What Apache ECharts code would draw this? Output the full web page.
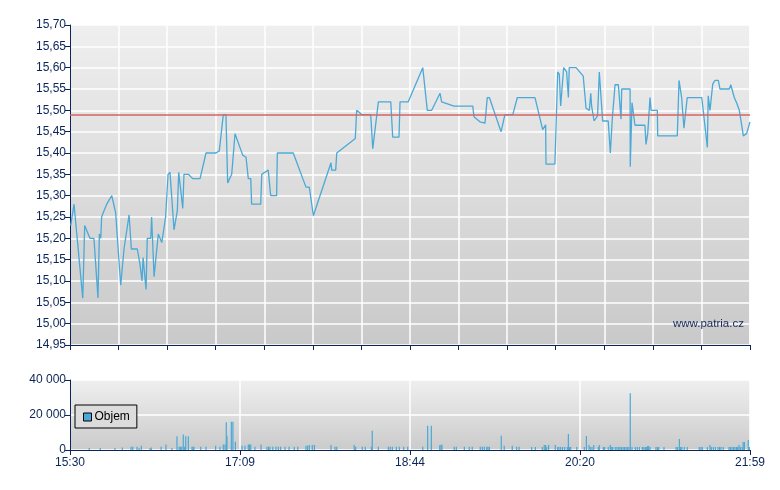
<!DOCTYPE html>
<html><head><meta charset="utf-8">
<script src="https://cdn.jsdelivr.net/npm/echarts@6/dist/echarts.min.js"></script>
<style>html,body{margin:0;padding:0;background:#fff}#c{width:780px;height:490px}</style>
</head><body><div id="c"></div>
<script>
// minutes after 15:30 (axis spans 0..389)
var priceTimes = [0.4,2.3,3.4,7.3,8.4,11.4,13.7,16.0,16.8,17.6,18.1,19.0,21.0,23.9,26.1,29.0,30.9,31.5,33.8,35.1,38.5,40.0,41.2,41.8,43.5,44.2,46.2,46.7,48.1,50.5,52.5,54.7,56.1,57.2,59.5,61.4,62.2,63.3,64.5,65.2,67.7,70.2,74.4,77.8,83.5,85.4,87.7,89.2,90.2,92.5,93.4,94.4,98.8,100.7,102.0,103.4,103.9,109.1,109.7,113.4,114.8,118.2,118.6,127.7,135.0,136.9,139.2,149.3,149.7,152.0,152.6,163.2,164.0,166.9,172.0,173.2,176.4,183.5,184.6,188.2,188.8,193.5,201.8,204.4,206.9,211.7,212.6,219.7,230.4,231.1,234.5,237.4,238.7,239.9,246.6,248.8,253.3,255.9,266.0,270.4,272.1,272.3,277.4,279.0,279.9,280.7,281.6,282.4,284.1,285.1,285.6,289.5,293.6,295.2,297.1,297.9,298.4,299.4,299.8,301.8,302.8,304.7,307.9,309.1,310.2,311.8,313.7,315.2,315.6,320.4,320.5,321.5,323.2,328.9,329.5,330.5,331.8,332.4,336.0,336.2,347.4,348.4,349.9,351.2,353.1,361.4,364.6,365.1,366.1,367.7,369.0,370.9,371.8,377.2,378.0,379.1,380.0,381.4,382.9,383.7,385.2,387.1,388.0,389.0];
var priceValues = [15.23,15.28,15.28,15.06,15.23,15.20,15.20,15.06,15.21,15.20,15.25,15.26,15.28,15.30,15.26,15.09,15.175,15.175,15.255,15.175,15.175,15.14,15.10,15.155,15.08,15.20,15.20,15.25,15.11,15.21,15.19,15.25,15.35,15.355,15.22,15.265,15.355,15.355,15.27,15.35,15.35,15.34,15.34,15.40,15.40,15.405,15.49,15.49,15.33,15.35,15.35,15.445,15.395,15.39,15.34,15.34,15.28,15.28,15.35,15.36,15.30,15.30,15.40,15.40,15.32,15.32,15.253,15.377,15.36,15.36,15.40,15.434,15.50,15.49,15.49,15.41,15.52,15.52,15.437,15.437,15.52,15.52,15.60,15.50,15.50,15.54,15.52,15.51,15.51,15.485,15.473,15.47,15.53,15.53,15.45,15.49,15.49,15.53,15.53,15.455,15.466,15.374,15.374,15.59,15.585,15.51,15.51,15.60,15.59,15.53,15.60,15.60,15.58,15.505,15.50,15.54,15.51,15.51,15.475,15.487,15.59,15.475,15.475,15.40,15.479,15.56,15.56,15.479,15.55,15.55,15.368,15.518,15.465,15.465,15.42,15.446,15.53,15.50,15.50,15.44,15.44,15.57,15.53,15.458,15.53,15.53,15.413,15.534,15.50,15.562,15.57,15.57,15.55,15.55,15.56,15.56,15.53,15.517,15.50,15.50,15.44,15.446,15.45,15.473];
var refPrice = 15.49;
var volTimes = [11.0,17.3,25.7,29.9,34.9,35.9,38.3,39.5,40.8,45.8,46.5,52.1,54.9,58.3,61.2,62.4,63.1,63.9,64.8,65.6,66.2,67.7,69.8,70.4,70.9,74.8,77.8,83.3,85.8,87.7,88.7,89.4,89.8,92.3,93.2,94.6,98.4,100.1,102.0,102.7,103.4,105.8,109.3,112.7,113.6,114.4,116.0,117.8,119.2,120.5,123.0,125.3,128.3,130.3,135.0,135.9,136.9,138.6,139.8,149.3,151.6,152.6,162.6,163.4,167.2,168.9,172.4,172.9,176.4,182.1,183.2,184.4,186.7,188.4,190.9,193.2,201.8,204.6,206.7,211.5,212.2,212.8,219.8,221.0,225.6,228.4,230.1,234.7,235.9,237.0,238.4,239.1,239.9,246.7,248.4,253.0,255.5,256.9,264.1,266.2,270.2,271.3,272.1,272.7,273.8,277.6,279.0,279.7,280.7,281.8,283.0,284.5,285.1,285.7,286.4,289.9,294.2,295.4,296.9,297.6,298.6,299.6,302.2,302.8,305.1,305.9,307.9,309.1,309.9,310.5,311.9,312.9,313.9,314.6,315.5,316.4,317.2,318.1,318.9,319.8,320.5,321.5,323.4,324.5,325.7,327.4,328.3,329.1,329.9,330.4,331.0,331.8,335.2,336.1,336.8,339.8,346.7,347.6,348.6,349.3,350.0,351.4,353.1,360.0,361.0,361.7,364.6,366.1,366.9,368.0,369.2,370.7,371.6,372.4,373.7,377.0,377.8,378.7,379.6,380.4,381.3,381.9,382.7,383.5,384.5,385.1,385.8,388.0,388.6];
var volValues = [1100,1100,1100,1500,1900,1900,1900,1100,2500,1100,1500,1900,3200,1100,7800,1900,1900,1900,8800,1900,7800,7800,1900,1900,1900,1900,1900,2500,1900,3200,3200,15800,7800,16200,16200,4700,2500,2500,3200,3200,3200,1900,3200,1900,1900,1900,1900,1900,1900,1900,1900,1900,1900,1900,2500,2500,2900,2900,2900,2900,1900,1900,2900,1900,1900,1900,1900,11000,1900,1900,1900,1900,1900,1900,1900,1900,1900,13900,13900,2700,3000,3000,1900,1900,1900,1900,1900,1900,1900,1900,1900,1900,1900,8200,2500,2500,1900,1900,1700,1700,1700,2900,2900,1700,2900,2900,1700,1700,1700,1700,1700,1700,9100,1700,1700,1700,1700,8000,2900,1700,1700,2900,1700,2900,1700,1700,1700,2900,1700,1700,1700,1700,1700,1700,1700,1700,1700,1700,1700,1700,32500,1700,1700,1700,1700,1700,1700,1700,1700,2300,2300,1700,1700,1700,1700,1700,1700,1700,6300,1700,1700,1700,1700,1700,1700,1700,1700,2900,1700,1700,1700,1700,1700,1700,1700,1700,1700,1700,1700,1700,1700,1700,2900,1700,1700,4600,4600,5700,1700];
var timeLabels = ['15:30','17:09','18:44','20:20','21:59'];
var priceTicks = {min: 14.95, max: 15.70, step: 0.05};
var volTicks = {min: 0, max: 40000, step: 20000};
var spanMinutes = 389;

var priceData = priceTimes.map(function(t,i){return [t, priceValues[i]];});
var volData = volTimes.map(function(t,i){return [t, volValues[i]];});

var navy = '#0b2558';
var lineBlue = '#4aa9d6';
var font = 'Liberation Sans, Arial, sans-serif';
function grad(a,b){return new echarts.graphic.LinearGradient(0,0,0,1,[{offset:0,color:a},{offset:1,color:b}]);}

var chart = echarts.init(document.getElementById('c'), null, {renderer:'canvas'});
chart.setOption({
  animation: false,
  backgroundColor: '#ffffff',
  grid: [
    {left:70, top:25, width:680, height:320, show:true, borderWidth:0, backgroundColor: grad('#efefef','#c9c9c9')},
    {left:70, top:380, width:680, height:70, show:true, borderWidth:0, backgroundColor: grad('#efefef','#cbcbcb')}
  ],
  legend: {
    show: true, data:['Objem'], left:75, top:405, orient:'horizontal',
    backgroundColor:'#dcdcdc', borderColor:'#000', borderWidth:1, borderRadius:0,
    padding:[6,7,5,8], itemWidth:8, itemHeight:8, itemGap:5,
    icon:'rect',
    itemStyle:{borderColor:'#000', borderWidth:1},
    textStyle:{color:'#000', fontSize:12, fontFamily:font, padding:[0,0,0,-2]}
  },
  xAxis: [
    {type:'value', gridIndex:0, min:0, max:spanMinutes, interval:spanMinutes/14,
      axisLine:{show:true, lineStyle:{color:navy, width:1}},
      axisTick:{show:true, inside:false, length:5, lineStyle:{color:navy}},
      axisLabel:{show:false},
      splitLine:{show:true, lineStyle:{color:'#ffffff', width:1.5}}},
    {type:'value', gridIndex:1, min:0, max:spanMinutes, interval:spanMinutes/4,
      axisLine:{show:true, lineStyle:{color:navy, width:1}},
      axisTick:{show:true, inside:false, length:5, lineStyle:{color:navy}},
      axisLabel:{show:true, color:navy, fontSize:12, fontFamily:font, margin:7,
        formatter:function(v){var i=Math.round(v/(spanMinutes/4)); return timeLabels[i]||'';}},
      splitLine:{show:true, lineStyle:{color:'#ffffff', width:1.5}}}
  ],
  yAxis: [
    {type:'value', gridIndex:0, min:priceTicks.min, max:priceTicks.max, interval:priceTicks.step,
      axisLine:{show:true, lineStyle:{color:navy, width:1}},
      axisTick:{show:true, inside:false, length:5, lineStyle:{color:navy}},
      axisLabel:{color:navy, fontSize:12, fontFamily:font, margin:4,
        formatter:function(v){return v.toFixed(2).replace('.',',');}},
      splitLine:{show:true, lineStyle:{color:'#ffffff', width:1.5}}},
    {type:'value', gridIndex:1, min:volTicks.min, max:volTicks.max, interval:volTicks.step,
      axisLine:{show:true, lineStyle:{color:navy, width:1}},
      axisTick:{show:true, inside:false, length:5, lineStyle:{color:navy}},
      axisLabel:{color:navy, fontSize:12, fontFamily:font, margin:4,
        formatter:function(v){return String(Math.round(v)).replace(/\B(?=(\d{3})+(?!\d))/g,' ');}},
      splitLine:{show:true, lineStyle:{color:'#ffffff', width:1.5}}}
  ],
  series: [
    {name:'Cena', type:'line', xAxisIndex:0, yAxisIndex:0, data:priceData, showSymbol:false,
      lineStyle:{color:lineBlue, width:1.3}, itemStyle:{color:lineBlue}, z:3,
      markLine:{silent:true, symbol:'none', label:{show:false},
        lineStyle:{color:'rgba(214,100,100,0.75)', width:2, type:'solid'},
        data:[{yAxis:refPrice}]}},
    {name:'Objem', type:'bar', xAxisIndex:1, yAxisIndex:1, data:volData, barWidth:1.2,
      itemStyle:{color:lineBlue}}
  ],
  graphic: [
    {type:'text', left:673, top:318, z:10, style:{text:'www.patria.cz', fill:'#1a2a5a', font:'11.5px '+font}}
  ]
});
</script></body></html>
